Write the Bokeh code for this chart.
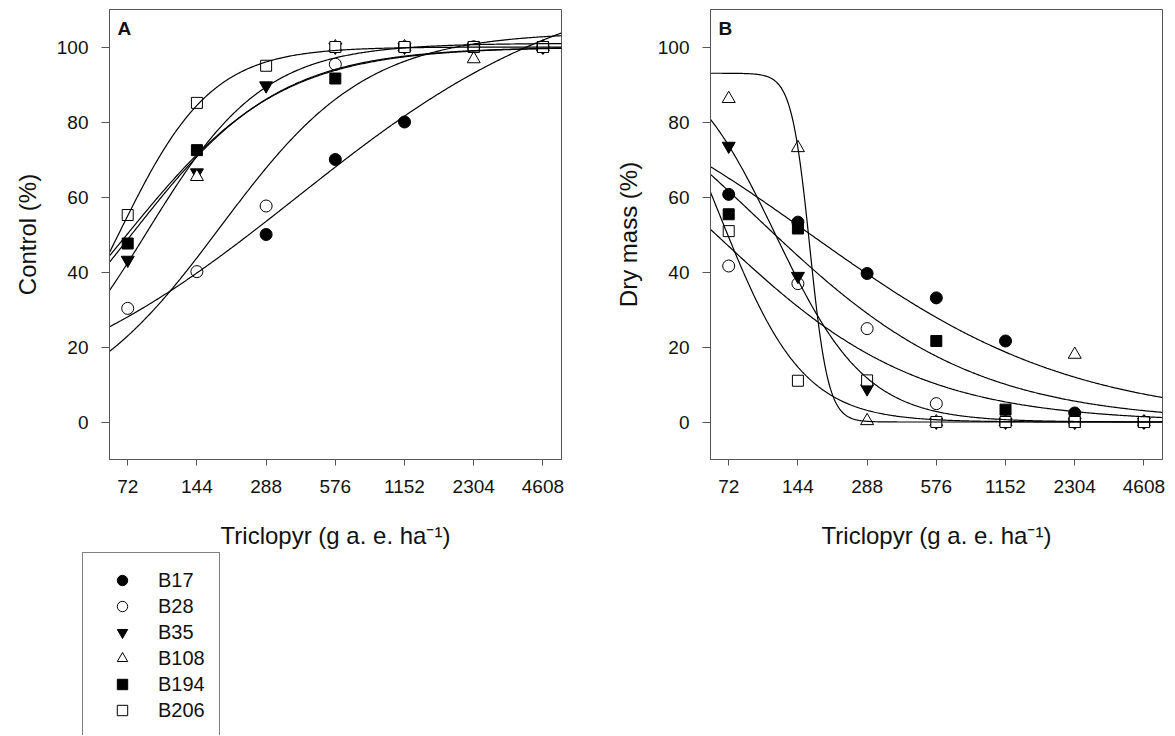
import numpy as np
from bokeh.plotting import figure
from bokeh.models import (Range1d, FixedTicker, Legend, LegendItem, Label,
                          ColumnDataSource)
from bokeh.layouts import row, column
from bokeh.embed import file_html
from bokeh.resources import INLINE

nan = float("nan")

# ---------------- data ----------------
doses = [72, 144, 288, 576, 1152, 2304, 4608]
tick_labels = ["72", "144", "288", "576", "1152", "2304", "4608"]
biotypes = ["B17", "B28", "B35", "B108", "B194", "B206"]
markers = ["circle", "circle", "inverted_triangle", "triangle", "square", "square"]
filled = [True, False, True, False, True, False]

# Panel A: control (%)
ctrl_B17 = [nan, nan, 50.0, 70.0, 80.0, 100, 100]
ctrl_B28 = [30.3, 40.1, 57.6, 95.4, 100, 100, 100]
ctrl_B35 = [43.2, 66.5, 89.7, 100, 100, 100, 100]
ctrl_B108 = [nan, 65.4, nan, 100, 100, 96.8, 100]
ctrl_B194 = [47.6, 72.5, nan, 91.6, 100, 100, 100]
ctrl_B206 = [55.2, 85.1, 95.0, 100, 100, 100, 100]
control = [ctrl_B17, ctrl_B28, ctrl_B35, ctrl_B108, ctrl_B194, ctrl_B206]

# Panel B: dry mass (%)
dm_B17 = [60.7, 53.3, 39.6, 33.1, 21.6, 2.4, 0]
dm_B28 = [41.6, 36.9, 24.9, 4.9, 0, 0, 0]
dm_B35 = [73.6, 38.9, 8.9, 0, 0, 0, 0]
dm_B108 = [86.2, 73.1, 0.3, 0, 0, 18.0, 0]
dm_B194 = [55.4, 51.6, nan, 21.6, 3.3, 0, 0]
dm_B206 = [50.9, 11.0, 11.1, 0, 0, 0, 0]
drymass = [dm_B17, dm_B28, dm_B35, dm_B108, dm_B194, dm_B206]

# fitted log-logistic curves (lower limit 0): upper limit d, ED50 e, slope b
fitA_d = [120, 104, 101, 100, 100, 100]
fitA_e = [393, 182, 87, 74.8, 71.5, 65.6]
fitA_b = [0.70, 1.36, 1.70, 1.35, 1.30, 2.15]

fitB_d = [100, 100, 100, 93, 110, 110]
fitB_e = [163.6, 63.4, 115, 162.3, 93.6, 66]
fitB_b = [0.755, 0.99, 2.2, 10.9, 0.915, 2.4]

XMIN, XMAX = 60, 5550
FONT = "Liberation Sans"
GRAY = "#555555"
TXT = "#111111"


def make_fig(ylabel, border_left, border_right, width, letter):
    p = figure(width=width, height=552, x_axis_type="log",
               x_range=Range1d(XMIN, XMAX), y_range=Range1d(-10, 110),
               output_backend="svg", toolbar_location=None,
               min_border_left=border_left, min_border_right=border_right,
               min_border_top=9, min_border_bottom=93)
    p.grid.visible = False
    p.outline_line_color = GRAY
    p.outline_line_width = 1
    p.background_fill_color = "white"
    p.border_fill_color = "white"
    p.xaxis.ticker = FixedTicker(ticks=doses)
    p.xaxis.major_label_overrides = {d: t for d, t in zip(doses, tick_labels)}
    p.yaxis.ticker = FixedTicker(ticks=[0, 20, 40, 60, 80, 100])
    for ax in (p.xaxis[0], p.yaxis[0]):
        ax.axis_line_color = GRAY
        ax.major_tick_line_color = GRAY
        ax.minor_tick_line_color = None
        ax.major_tick_in = 0
        ax.major_label_text_font = FONT
        ax.major_label_text_font_size = "19px"
        ax.major_label_text_color = TXT
        ax.axis_label_text_font = FONT
        ax.axis_label_text_font_size = "24px"
        ax.axis_label_text_font_style = "normal"
        ax.axis_label_text_color = TXT
    p.xaxis.major_tick_out = 6
    p.yaxis.major_tick_out = 8
    p.xaxis.major_label_standoff = 14
    p.yaxis.major_label_standoff = 13
    p.xaxis.axis_label = "Triclopyr (g a. e. ha\u207b\u00b9)"
    p.yaxis.axis_label = ylabel
    p.xaxis.axis_label_standoff = 26
    p.yaxis.axis_label_standoff = 13
    p.add_layout(Label(x=65, y=105, text=letter, text_font=FONT,
                       text_font_size="19px", text_font_style="bold",
                       text_color=TXT, text_baseline="alphabetic"))
    return p


def marker_size(m):
    return 12 if m == "circle" else (11 if m == "square" else 13)


def draw(p, values, fd, fe, fb, increasing):
    xs = np.geomspace(XMIN, XMAX, 400)
    for i, name in enumerate(biotypes):
        src = ColumnDataSource(dict(x=doses, y=values[i]))
        p.scatter("x", "y", source=src, marker=markers[i], size=marker_size(markers[i]),
                  line_color="black", line_width=1,
                  fill_color="black" if filled[i] else "white")
    for i in range(len(biotypes)):
        if increasing:
            ys = fd[i] / (1 + (fe[i] / xs) ** fb[i])
        else:
            ys = fd[i] / (1 + (xs / fe[i]) ** fb[i])
        p.line(xs, ys, line_color="black", line_width=1.2)


pA = make_fig("Control (%)", 109, 47, 608, "A")
draw(pA, control, fitA_d, fitA_e, fitA_b, True)

pB = make_fig("Dry mass (%)", 102, 13, 567, "B")
draw(pB, drymass, fitB_d, fitB_e, fitB_b, False)

# legend panel below panel A (legend-only renderers carry no visible data)
pL = figure(width=608, height=183, x_range=Range1d(0, 1), y_range=Range1d(0, 1),
            output_backend="svg", toolbar_location=None,
            min_border_left=0, min_border_right=0, min_border_top=0, min_border_bottom=0)
pL.axis.visible = False
pL.grid.visible = False
pL.outline_line_color = None
pL.border_fill_color = "white"
pL.background_fill_color = "white"
leg_items = []
for i, name in enumerate(biotypes):
    src = ColumnDataSource(dict(x=[nan], y=[nan]))
    r = pL.scatter("x", "y", source=src, marker=markers[i], size=marker_size(markers[i]),
                   line_color="black", line_width=1,
                   fill_color="black" if filled[i] else "white")
    leg_items.append(LegendItem(label=name, renderers=[r]))

legend = Legend(items=leg_items, location=(82, -3), orientation="vertical",
                padding=14, spacing=0, glyph_height=26, label_height=26,
                glyph_width=50, label_standoff=11,
                label_text_font=FONT, label_text_font_size="20px",
                label_text_color=TXT,
                border_line_color="black", border_line_width=1,
                background_fill_color="white", background_fill_alpha=1)
pL.add_layout(legend, "center")

layout = column(row(pA, pB), pL)
open("out.html", "w").write(file_html(layout, INLINE))
